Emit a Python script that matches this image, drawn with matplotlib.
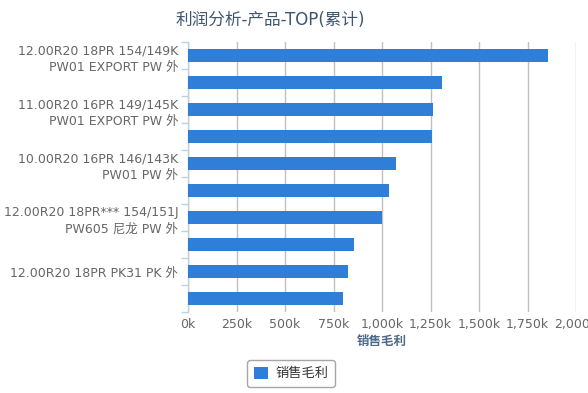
import matplotlib
matplotlib.use("Agg")
import matplotlib.pyplot as plt
from matplotlib.ticker import FuncFormatter, FixedLocator, NullFormatter
import numpy as np

plt.rcParams['font.family'] = ['DejaVu Sans', 'Noto Sans CJK SC']

categories = [
    "12.00R20 18PR 154/149K\nPW01 EXPORT PW 外",
    "",
    "11.00R20 16PR 149/145K\nPW01 EXPORT PW 外",
    "",
    "10.00R20 16PR 146/143K\nPW01 PW 外",
    "",
    "12.00R20 18PR*** 154/151J\nPW605 尼龙 PW 外",
    "",
    "12.00R20 18PR PK31 PK 外",
    "",
]
values = [1856000, 1309000, 1263000, 1258000, 1072000, 1036000, 1000000, 856000, 825000, 799000]
x_ticks = [0, 250000, 500000, 750000, 1000000, 1250000, 1500000, 1750000, 2000000]
title = "利润分析-产品-TOP(累计)"
series_name = "销售毛利"

W, H = 588, 393
fig = plt.figure(figsize=(W / 100, H / 100), dpi=100)
ax = fig.add_axes([188 / W, 81 / H, 388 / W, 270 / H])

n = len(values)
ypos = np.arange(n)
bars = ax.barh(ypos, values, height=0.48, color="#2f7ed8", zorder=3, label=series_name)

ax.set_xlim(0, 2000000)
ax.set_ylim(n - 0.5, -0.5)

# x grid
ax.set_xticks(x_ticks)
ax.xaxis.set_major_formatter(FuncFormatter(lambda v, p: "{:,}k".format(int(v / 1000))))
ax.grid(axis='x', color="#c0c0c0", linewidth=1, zorder=0)
ax.tick_params(axis='x', length=0, pad=4, labelsize=9, labelcolor="#666666")

# y axis: ticks at category boundaries, labels at centers
ax.yaxis.set_major_locator(FixedLocator(np.arange(n + 1) - 0.5))
ax.yaxis.set_major_formatter(NullFormatter())
ax.yaxis.set_minor_locator(FixedLocator(ypos))
ax.set_yticklabels(categories, minor=True)
ax.tick_params(axis='y', which='major', length=5, color="#c0d0e0", width=1)
ax.tick_params(axis='y', which='minor', length=0, pad=7, labelsize=9, labelcolor="#666666")
for lbl in ax.get_yticklabels(minor=True):
    lbl.set_horizontalalignment('right')
    lbl.set_multialignment('right')
    lbl.set_linespacing(1.4)

for s in ['top', 'right', 'bottom']:
    ax.spines[s].set_visible(False)
ax.spines['left'].set_color("#c0d0e0")
ax.spines['left'].set_linewidth(1)

ax.set_xlabel(series_name, fontsize=9, fontweight='bold', color="#4d6a8a", labelpad=3)

fig.text(270 / W, 1 - 20 / H, title, ha='center', va='center', fontsize=12, color="#3e576f")

leg = fig.legend(handles=[bars], labels=[series_name], loc='center', bbox_to_anchor=(291 / W, 1 - 373.5 / H),
                 frameon=True, fontsize=9.5, handlelength=1.1, handleheight=1.0, borderpad=0.5,
                 handletextpad=0.5, fancybox=True)
leg.get_frame().set_edgecolor("#909090")
leg.get_frame().set_linewidth(1)
for t in leg.get_texts():
    t.set_color("#333333")

fig.savefig("out.png", dpi=100)
